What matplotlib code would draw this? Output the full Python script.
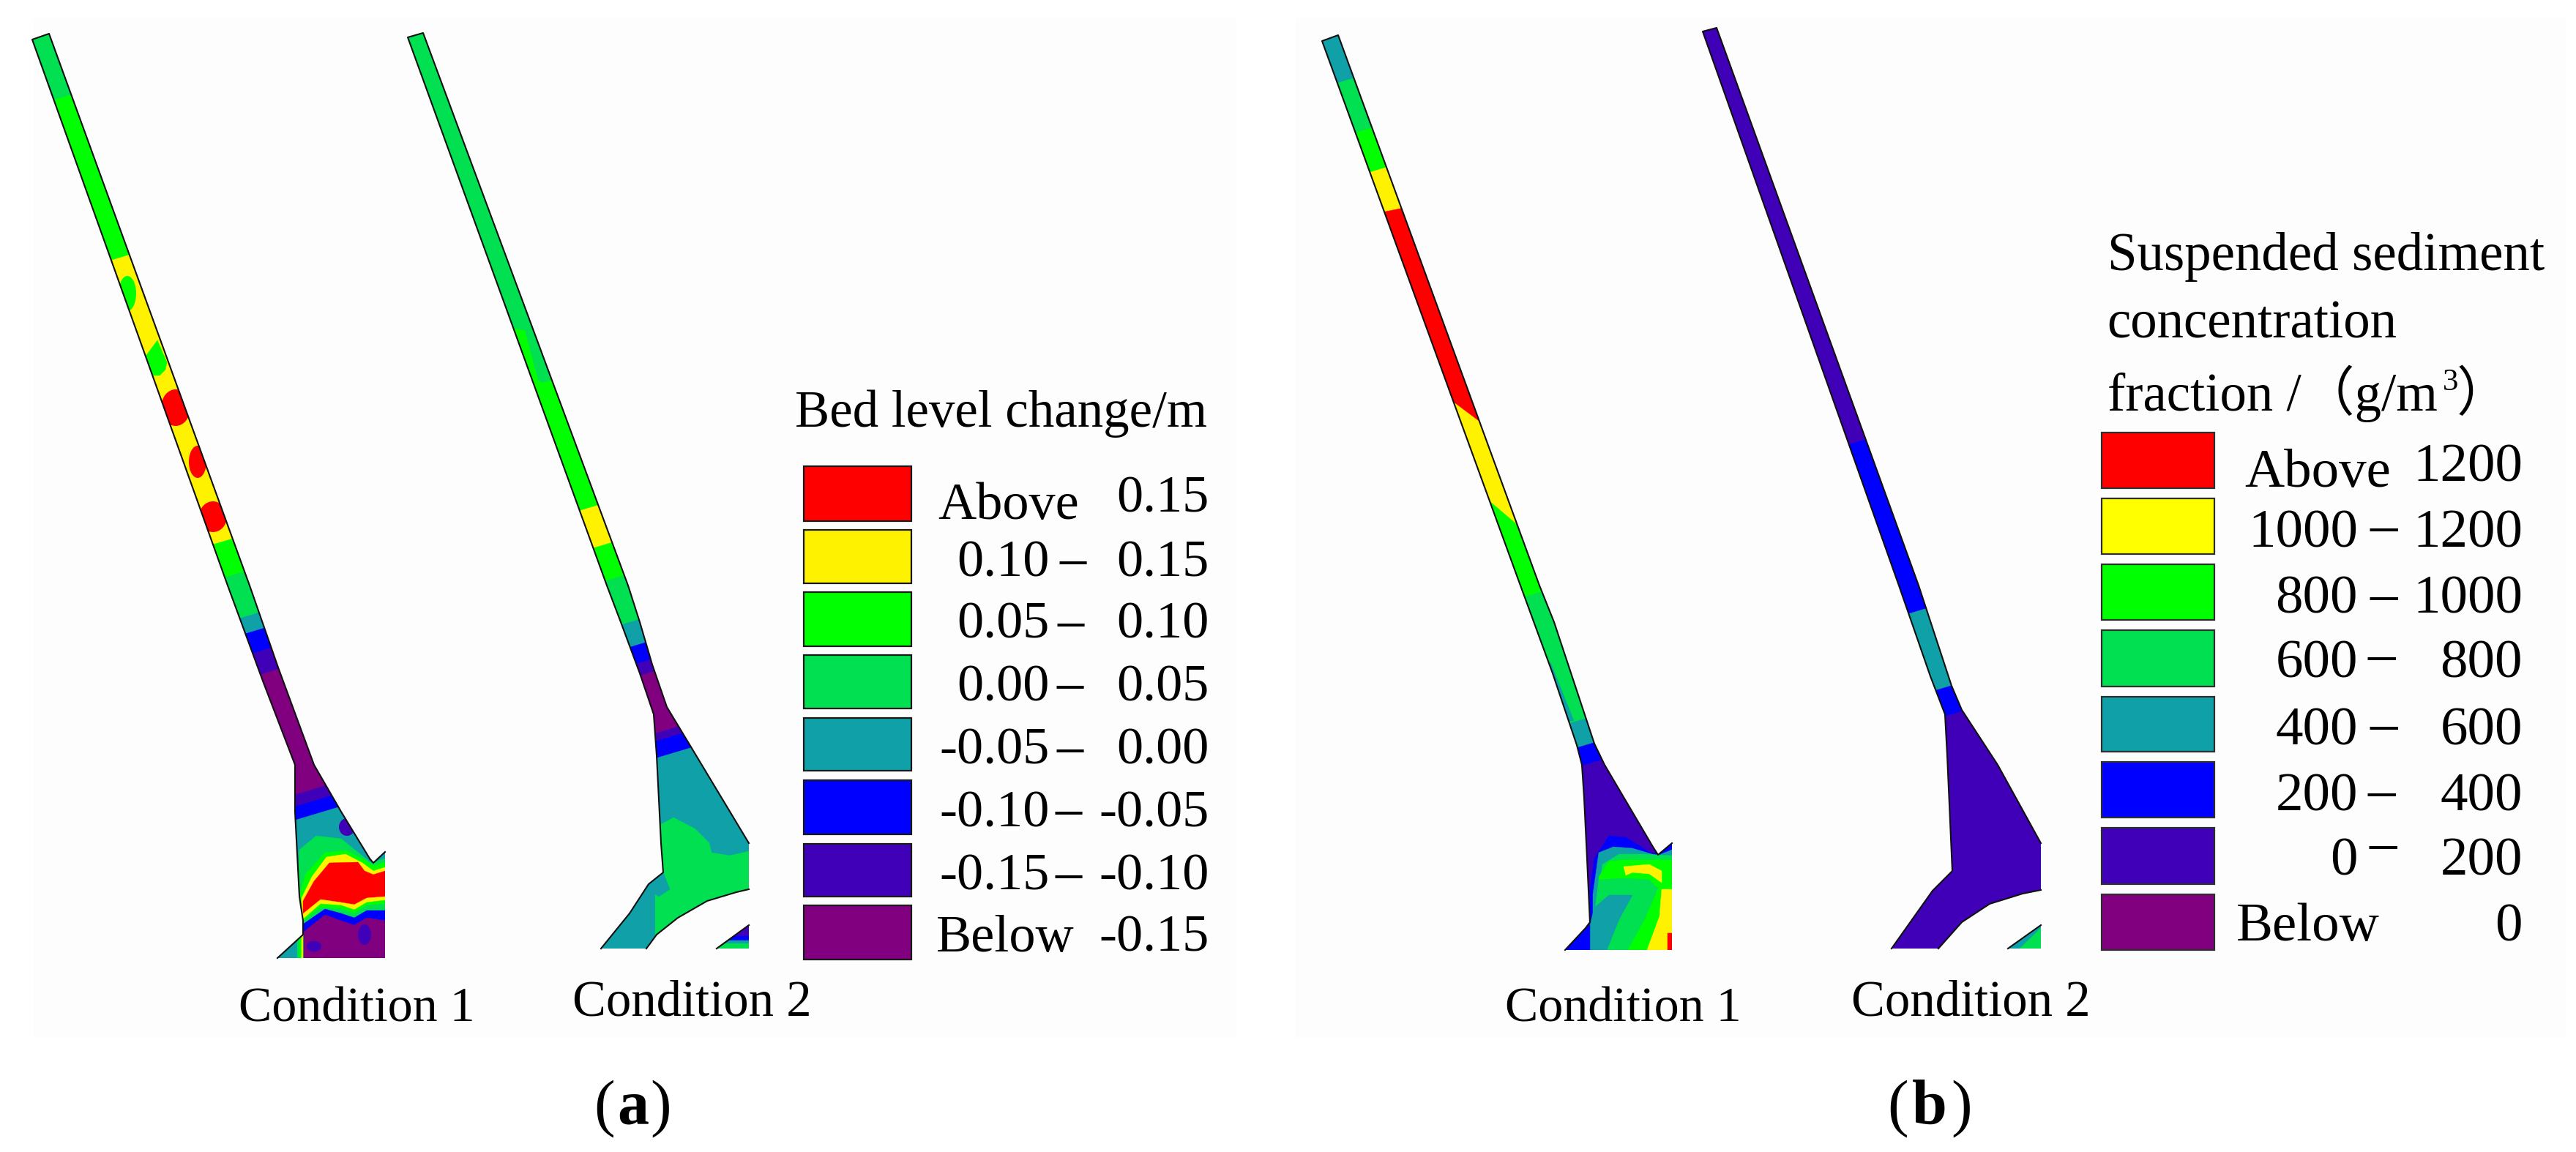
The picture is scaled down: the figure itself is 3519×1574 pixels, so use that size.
import numpy as np
import matplotlib
matplotlib.use("Agg")
import matplotlib.pyplot as plt
from matplotlib.patches import Ellipse, Polygon, Rectangle

plt.rcParams['font.family'] = ['Liberation Serif', 'Noto Sans CJK SC']

# ------------------------------------------------------------------
# colours of the contour classes
# ------------------------------------------------------------------
RED = '#FF0000'
YEL = '#FFF200'
LIME = '#00FF00'
GRN = '#00E050'
TEAL = '#10A0A8'
BLUE = '#0000FF'
IND = '#4000B8'
PUR = '#800080'
legend_colors = [RED, YEL, LIME, GRN, TEAL, BLUE, IND, PUR]

# ------------------------------------------------------------------
# panel (a), condition 1 (image pixels)
# ------------------------------------------------------------------
a1_left = [(44, 54), (311, 800), (360, 933), (403, 1045), (403, 1109), (409, 1225),
           (414, 1258), (414, 1277), (379, 1309)]
a1_right = [(67, 46), (341, 800), (380, 912), (429, 1045), (466, 1109), (505, 1173),
            (510, 1179), (526, 1164)]
a1_close = [(526, 1309)]
a1_tops = [46, 133, 352, 740, 785, 841, 862, 889, 918, 1079, 1094, 1111]
a1_band_colors = [GRN, LIME, YEL, LIME, GRN, TEAL, BLUE, IND, PUR, IND, BLUE, TEAL]
a1_blobs = [(LIME, 174, 401, 24, 48), (RED, 240, 557, 40, 50),
            (RED, 270, 631, 24, 44), (RED, 291, 706, 38, 42), (IND, 474, 1130, 22, 24)]
a1_patches = [(LIME, [(215, 465), (228, 495), (226, 505), (218, 513), (208, 513), (198, 488)])]
a1_fronts = [
    (BLUE, [(505, 1165), (526, 1158), (526, 1175), (508, 1185)]),
    (TEAL, [(505, 1172), (526, 1166), (526, 1180), (508, 1190)]),
    (GRN, [(406, 1215), (409, 1161), (432, 1142), (466, 1146), (507, 1179), (526, 1173)]),
    (LIME, [(409, 1223), (418, 1194), (444, 1165), (472, 1162), (498, 1175), (510, 1183), (526, 1178)]),
    (YEL, [(412, 1227), (426, 1198), (446, 1171), (472, 1167), (495, 1179), (510, 1190), (526, 1185)]),
    (RED, [(414, 1231), (429, 1204), (450, 1179), (489, 1178), (498, 1190), (510, 1195), (526, 1190)]),
    (YEL, [(412, 1250), (438, 1229), (466, 1233), (484, 1236), (501, 1227), (526, 1225)]),
    (LIME, [(414, 1256), (438, 1235), (466, 1237), (484, 1243), (501, 1233), (526, 1230)]),
    (GRN, [(415, 1258), (438, 1240), (466, 1242), (484, 1248), (501, 1237), (526, 1235)]),
    (BLUE, [(415, 1262), (444, 1242), (466, 1248), (484, 1254), (501, 1244), (526, 1244)]),
    (PUR, [(415, 1273), (444, 1250), (466, 1258), (484, 1264), (501, 1254), (526, 1258)]),
]
a1_after = [(IND, 498, 1277, 18, 28), (IND, 429, 1293, 20, 15)]

# ------------------------------------------------------------------
# panel (a), condition 2
# ------------------------------------------------------------------
a2_left = [(557, 51), (829, 800), (848, 850), (874, 920), (893, 976), (897, 1032),
           (903, 1152), (906, 1192), (886, 1208), (860, 1248), (821, 1296)]
a2_right = [(578, 45), (858, 800), (874, 850), (891, 908), (911, 966), (937, 1009), (1023, 1152)]
a2_arc = [(883, 1296), (897, 1277), (926, 1254), (966, 1231), (1006, 1219), (1023, 1215)]
a2_tops = [45, 523, 694, 745, 790, 850, 881, 904, 920, 997, 1007, 1028]
a2_band_colors = [GRN, LIME, YEL, LIME, GRN, TEAL, BLUE, IND, PUR, IND, BLUE, TEAL]
a2_lime_patch = [(LIME, [(700, 448), (717, 452), (735, 520), (745, 525), (720, 530), (690, 450)])]
a2_fronts = [(GRN, [(895, 1135), (900, 1128), (920, 1117), (949, 1132), (969, 1152),
                    (972, 1165), (997, 1169), (1023, 1163)])]
a2_patches = [(TEAL, [(886, 1190), (906, 1192), (915, 1215), (900, 1225), (885, 1215)]),
              (TEAL, [(851, 1262), (886, 1260), (891, 1281), (883, 1300), (815, 1300)])]
a2_tri = [(979, 1296), (1023, 1264), (1023, 1296)]
a2_tri_tops = [1262, 1279, 1285, 1289]
a2_tri_colors = [IND, BLUE, TEAL, GRN]

# ------------------------------------------------------------------
# panel (b), condition 1
# ------------------------------------------------------------------
b1_left = [(1806, 56), (2077, 800), (2121, 920), (2154, 1018), (2161, 1045), (2164, 1090),
           (2168, 1173), (2172, 1260), (2166, 1268), (2138, 1298)]
b1_right = [(1828, 48), (2103, 800), (2123, 850), (2178, 1016), (2192, 1045), (2258, 1157),
            (2265, 1168), (2284, 1152)]
b1_close = [(2284, 1298)]
b1_tops = [48, 110, 178, 232, 287, 563, 701, 812, 985, 1018, 1042]
b1_band_colors = [TEAL, GRN, LIME, YEL, RED, YEL, LIME, GRN, TEAL, BLUE, IND]
b1_skews = [-0.3, -0.3, -0.3, -0.3, -0.2, 0.75, 0.85, -0.3, -0.3, -0.3, -0.3]
b1_band_patch = [(TEAL, [(2118, 905), (2150, 985), (2110, 985)])]
b1_fronts = [
    (BLUE, [(2172, 1215), (2178, 1173), (2198, 1142), (2221, 1144), (2258, 1167), (2284, 1150)]),
    (TEAL, [(2176, 1222), (2184, 1165), (2204, 1157), (2230, 1159), (2264, 1169), (2284, 1161)]),
    (GRN, [(2182, 1230), (2189, 1181), (2212, 1167), (2247, 1167), (2284, 1169)]),
    (LIME, [(2184, 1198), (2198, 1177), (2218, 1175), (2284, 1175)]),
]
b1_patches = [
    (YEL, [(2218, 1184), (2253, 1181), (2270, 1190), (2270, 1206), (2253, 1194), (2230, 1192), (2221, 1196)]),
    (GRN, [(2184, 1202), (2218, 1200), (2253, 1202), (2267, 1215), (2253, 1256), (2224, 1298), (2172, 1298)]),
    (LIME, [(2267, 1210), (2284, 1215), (2284, 1298), (2224, 1298), (2247, 1256)]),
    (YEL, [(2270, 1215), (2284, 1215), (2284, 1298), (2250, 1298), (2267, 1252)]),
    (RED, [(2278, 1275), (2284, 1275), (2284, 1298), (2278, 1298)]),
    (TEAL, [(2172, 1264), (2178, 1240), (2198, 1223), (2230, 1223), (2212, 1256), (2195, 1298), (2172, 1298)]),
    (BLUE, [(2138, 1298), (2166, 1268), (2172, 1264), (2172, 1298)]),
]

# ------------------------------------------------------------------
# panel (b), condition 2
# ------------------------------------------------------------------
b2_left = [(2326, 43), (2594, 800), (2637, 924), (2657, 976), (2660, 1032), (2667, 1190),
           (2640, 1217), (2584, 1296)]
b2_right = [(2345, 38), (2621, 800), (2666, 937), (2680, 970), (2729, 1045), (2788, 1152)]
b2_arc = [(2648, 1296), (2680, 1260), (2718, 1235), (2763, 1221), (2788, 1216)]
b2_tops = [38, 604, 835, 940, 975]
b2_band_colors = [IND, BLUE, TEAL, BLUE, IND]
b2_tri = [(2743, 1296), (2788, 1264), (2788, 1296)]
b2_tri_patch = [(GRN, [(2757, 1298), (2788, 1268), (2790, 1298)])]

# ------------------------------------------------------------------
# legends
# ------------------------------------------------------------------
a_title = "Bed level change/m"
a_low = ["Above", "0.10", "0.05", "0.00", "-0.05", "-0.10", "-0.15", "Below"]
a_high = ["0.15", "0.15", "0.10", "0.05", "0.00", "-0.05", "-0.10", "-0.15"]
a_swatch_top = [637, 724, 809, 895, 981, 1066, 1153, 1237]
a_swatch_bot = [712, 797, 883, 968, 1053, 1140, 1225, 1311]
a_base = [700, 787, 872, 958, 1044, 1129, 1216, 1300]
a_dash_y = [768, 853, 938, 1025, 1110, 1197]
a_dash_x = [1466, 1463, 1462, 1462, 1460, 1460]

b_title = ["Suspended sediment", "concentration"]
b_low = ["Above", "1000", "800", "600", "400", "200", "0", "Below"]
b_high = ["1200", "1200", "1000", "800", "600", "400", "200", "0"]
b_swatch_top = [591, 681, 771, 861, 952, 1041, 1131, 1222]
b_swatch_bot = [667, 757, 847, 938, 1027, 1117, 1208, 1298]
b_base = [657, 747, 838, 926, 1017, 1107, 1196, 1286]
b_dash_y = [723, 817, 899, 994, 1085, 1157]
b_dash_x = [3256, 3256, 3253, 3256, 3253, 3255]

# ------------------------------------------------------------------
# helpers
# ------------------------------------------------------------------
W, H = 3519, 1574
fig = plt.figure(figsize=(W / 100, H / 100), dpi=100)
ax = fig.add_axes([0, 0, 1, 1])
ax.set_xlim(0, W)
ax.set_ylim(H, 0)
ax.axis('off')


def add_poly(color, pts, clip, z=2):
    p = Polygon(pts, closed=True, facecolor=color, edgecolor=color, lw=0.3, zorder=z)
    ax.add_patch(p)
    p.set_clip_path(clip)


def add_bands(tops, colors, left, right, clip, skews=None):
    # painter's order: each class runs from its top down to the bottom
    lx = np.array([p[0] for p in left], float)
    ly = np.array([p[1] for p in left], float)
    rx = np.array([p[0] for p in right], float)
    ry = np.array([p[1] for p in right], float)
    if skews is None:
        skews = [-0.3] * len(tops)
    for y0, c, s in zip(tops, colors, skews):
        xc = 0.5 * (np.interp(y0, ly, lx) + np.interp(y0, ry, rx))
        x0, x1 = xc - 400, xc + 400
        pts = [(x0, y0 + s * (x0 - xc)), (x1, y0 + s * (x1 - xc)), (x1, 1600), (x0, 1600)]
        add_poly(c, pts, clip)


def add_fronts(fronts, clip):
    for c, edge in fronts:
        pts = list(edge) + [(edge[-1][0], 1400), (edge[0][0], 1400)]
        add_poly(c, pts, clip)


def add_blobs(blobs, clip):
    for c, cx, cy, w, h in blobs:
        e = Ellipse((cx, cy), w, h, facecolor=c, edgecolor='none', zorder=2)
        ax.add_patch(e)
        e.set_clip_path(clip)


def make_clip(pts):
    clip = Polygon(pts, closed=True, facecolor='none', edgecolor='none', transform=ax.transData)
    ax.add_patch(clip)
    return clip


def edge_line(pts):
    ax.plot([p[0] for p in pts], [p[1] for p in pts], color='#101010', lw=1.5, zorder=3,
            solid_joinstyle='round')


def label(x, y, s, size=52, ha='left', **kw):
    ax.text(x, y, s, fontsize=size, ha=ha, va='baseline', color='black', zorder=5, **kw)


# faint paper texture behind both panels
ax.add_patch(Rectangle((45, 25), 1644, 1393, facecolor='#FDFDFD', edgecolor='none', zorder=0))
ax.add_patch(Rectangle((1770, 25), 1736, 1393, facecolor='#FDFDFD', edgecolor='none', zorder=0))

# ------------------------------------------------------------------
# maps
# ------------------------------------------------------------------
# a1
clip = make_clip(a1_left + a1_close + a1_right[::-1])
add_bands(a1_tops, a1_band_colors, a1_left, a1_right, clip)
add_blobs(a1_blobs, clip)
for c, pts in a1_patches:
    add_poly(c, pts, clip)
add_fronts(a1_fronts, clip)
add_blobs(a1_after, clip)
edge_line(a1_left[::-1] + a1_right)

# a2
clip = make_clip(a2_left + a2_arc + a2_right[::-1])
add_bands(a2_tops, a2_band_colors, a2_left, a2_right, clip)
for c, pts in a2_lime_patch:
    add_poly(c, pts, clip)
add_fronts(a2_fronts, clip)
for c, pts in a2_patches:
    add_poly(c, pts, clip)
edge_line(a2_left[::-1] + a2_right)
edge_line(a2_arc)
clip = make_clip(a2_tri)
for y0, y1, c in zip(a2_tri_tops, a2_tri_tops[1:] + [1300], a2_tri_colors):
    add_poly(c, [(970, y0), (1030, y0), (1030, y1), (970, y1)], clip)
edge_line(a2_tri[:2])

# b1
clip = make_clip(b1_left + b1_close + b1_right[::-1])
add_bands(b1_tops, b1_band_colors, b1_left, b1_right, clip, b1_skews)
for c, pts in b1_band_patch:
    add_poly(c, pts, clip)
add_fronts(b1_fronts, clip)
for c, pts in b1_patches:
    add_poly(c, pts, clip)
edge_line(b1_left[::-1] + b1_right)

# b2
clip = make_clip(b2_left + b2_arc + b2_right[::-1])
add_bands(b2_tops, b2_band_colors, b2_left, b2_right, clip)
edge_line(b2_left[::-1] + b2_right)
edge_line(b2_arc)
clip = make_clip(b2_tri)
add_poly(TEAL, b2_tri, clip)
for c, pts in b2_tri_patch:
    add_poly(c, pts, clip)
edge_line(b2_tri[:2])

# ------------------------------------------------------------------
# legends
# ------------------------------------------------------------------
for t, b, c in zip(a_swatch_top, a_swatch_bot, legend_colors):
    ax.add_patch(Rectangle((1098, t), 147, b - t, facecolor=c, edgecolor='#1a1a1a', lw=1.6, zorder=3))
for t, b, c in zip(b_swatch_top, b_swatch_bot, legend_colors):
    c = '#FFFF00' if c == YEL else c
    ax.add_patch(Rectangle((2871, t), 154, b - t, facecolor=c, edgecolor='#303030', lw=1.6, zorder=3))

label(1086, 583, a_title, size=51)
label(1281, 709, a_low[0])
label(1279, a_base[7], a_low[7])
for i in range(1, 7):
    label(1434, a_base[i], a_low[i], ha='right')
for i in range(8):
    label(1652, a_base[i], a_high[i], ha='right')
for x, y in zip(a_dash_x, a_dash_y):
    label(x, y + 18, "\u2013", ha='center')

label(2879, 369, b_title[0], size=52.5)
label(2878, 461, b_title[1], size=52.5)
label(2879, 561, "fraction /\uff08g/m", size=52.5)
label(3337, 533, "3", size=31)
label(3356, 561, "\uff09", size=52.5)
label(3066, 665, b_low[0], size=54)
label(3055, 1285, b_low[7], size=54)
for i in range(1, 7):
    label(3221, b_base[i], b_low[i], size=54, ha='right')
for i in range(8):
    label(3446, b_base[i], b_high[i], size=54, ha='right')
for x, y in zip(b_dash_x, b_dash_y):
    label(x, y + 18, "\u2013", size=54, ha='center')

# condition names
label(326, 1396, "Condition 1", size=49)
label(782, 1388, "Condition 2", size=49.5)
label(2056, 1396, "Condition 1", size=49)
label(2529, 1388, "Condition 2", size=49.5)

# panel captions
label(840, 1535, "(", size=62, ha='right')
label(865, 1535, "a", size=62, ha='center', fontweight='bold')
label(888, 1535, ")", size=62)
label(2607, 1535, "(", size=62, ha='right')
label(2636, 1535, "b", size=62, ha='center', fontweight='bold')
label(2665, 1535, ")", size=62)

fig.savefig("out.png", dpi=100, facecolor='white')
